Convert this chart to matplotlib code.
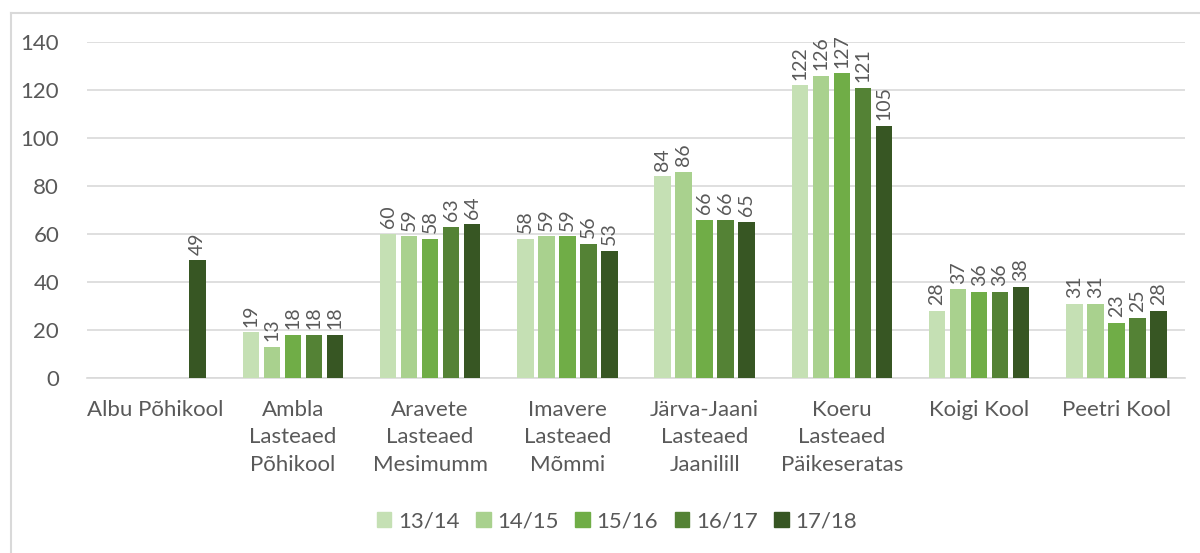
import matplotlib
matplotlib.use("Agg")
import matplotlib.pyplot as plt
import numpy as np
from matplotlib.lines import Line2D

categories = ["Albu Põhikool", "Ambla\nLasteaed\nPõhikool", "Aravete\nLasteaed\nMesimumm",
              "Imavere\nLasteaed\nMõmmi", "Järva-Jaani\nLasteaed\nJaanilill",
              "Koeru\nLasteaed\nPäikeseratas", "Koigi Kool", "Peetri Kool"]
series_names = ["13/14", "14/15", "15/16", "16/17", "17/18"]
s1314 = [None, 19, 60, 58, 84, 122, 28, 31]
s1415 = [None, 13, 59, 59, 86, 126, 37, 31]
s1516 = [None, 18, 58, 59, 66, 127, 36, 23]
s1617 = [None, 18, 63, 56, 66, 121, 36, 25]
s1718 = [49, 18, 64, 53, 65, 105, 38, 28]
colors = ["#C5E0B4", "#A9D18E", "#70AD47", "#548235", "#375623"]

plt.rcParams['font.family'] = ['Lato', 'DejaVu Sans']
txt = "#595959"

fig = plt.figure(figsize=(12, 5.53), dpi=100)
ax = fig.add_axes([87/1200, 1-378/553, (1185-87)/1200, (378-42)/553])

x = np.arange(len(categories))
step = 0.153
width = 0.12
all_series = [s1314, s1415, s1516, s1617, s1718]
for i, (name, vals, c) in enumerate(zip(series_names, all_series, colors)):
    xs = x + (i - 2) * step
    heights = [v if v is not None else 0 for v in vals]
    ax.bar(xs, heights, width=width, color=c, label=name, zorder=3)
    for xi, v in zip(xs, vals):
        if v is None:
            continue
        ax.annotate(str(v), (xi, v), xytext=(0, 4), textcoords="offset points",
                    rotation=90, ha="center", va="bottom", fontsize=14, color=txt)

ax.set_xlim(-0.5, len(categories) - 0.5)
ax.set_ylim(0, 140)
ax.set_yticks(range(0, 141, 20))
ax.yaxis.grid(True, color="#D9D9D9", linewidth=1.2, zorder=0)
ax.set_axisbelow(True)
for s in ["top", "right", "left"]:
    ax.spines[s].set_visible(False)
ax.spines["bottom"].set_color("#D9D9D9")
ax.spines["bottom"].set_linewidth(1.2)
ax.tick_params(axis="both", length=0, labelsize=16, colors=txt)
ax.tick_params(axis="x", pad=16)
ax.tick_params(axis="y", pad=20)
ax.set_xticks(x)
ax.set_xticklabels(categories, linespacing=1.45)

handles = [plt.Rectangle((0, 0), 1, 1, color=c) for c in colors]
leg = fig.legend(handles, series_names, loc="center", bbox_to_anchor=(617/1200, 1-521/553),
                 ncol=5, frameon=False, fontsize=16, handlelength=0.65, handleheight=0.65,
                 handletextpad=0.3, columnspacing=0.75)
for t in leg.get_texts():
    t.set_color(txt)

fig.add_artist(Line2D([11/1200, 11/1200], [0, 1-13/553], color="#D9D9D9", linewidth=1.5))
fig.add_artist(Line2D([11/1200, 1], [1-13/553, 1-13/553], color="#D9D9D9", linewidth=1.5))

fig.savefig("out.png", dpi=100)
